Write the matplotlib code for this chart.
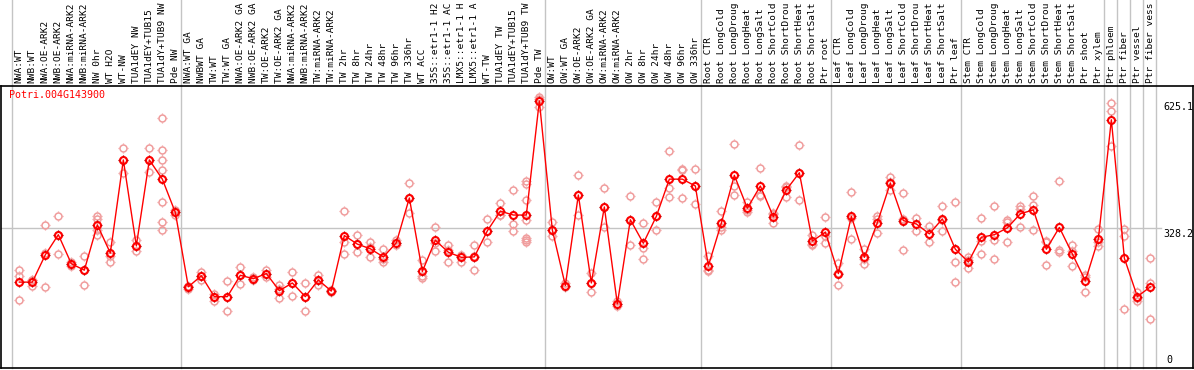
import numpy as np
import matplotlib.pyplot as plt
from matplotlib.path import Path
import matplotlib.transforms as mtransforms

gene = 'Potri.004G143900'

labels = ['NWA:WT', 'NWB:WT', 'NWA:OE-ARK2', 'NWB:OE-ARK2', 'NWA:miRNA-ARK2', 'NWB:miRNA-ARK2',
          'NW 0hr', 'WT H2O', 'WT-NW', 'TUA1dEY NW', 'TUA1dEY+TUB15 NW', 'TUA1dY+TUB9 NW', 'Pde NW',
          'NWA:WT GA', 'NWBWT GA', 'TW:WT', 'TW:WT GA', 'NWA:OE-ARK2 GA', 'NWB:OE-ARK2 GA',
          'TW:OE-ARK2', 'TW:OE-ARK2 GA', 'NWA:miRNA-ARK2', 'NWB:miRNA-ARK2', 'TW:miRNA-ARK2',
          'TW:miRNA-ARK2', 'TW 2hr', 'TW 8hr', 'TW 24hr', 'TW 48hr', 'TW 96hr', 'TW 336hr', 'WT ACC',
          '35S::etr1-1 H2O', '35S::etr1-1 ACC', 'LMX5::etr1-1 H2O', 'LMX5::etr1-1 ACC', 'WT-TW',
          'TUA1dEY TW', 'TUA1dEY+TUB15 TW', 'TUA1dY+TUB9 TW', 'Pde TW',
          'OW:WT', 'OW:WT GA', 'OW:OE-ARK2', 'OW:OE-ARK2 GA', 'OW:miRNA-ARK2', 'OW:miRNA-ARK2',
          'OW 2hr', 'OW 8hr', 'OW 24hr', 'OW 48hr', 'OW 96hr', 'OW 336hr',
          'Root CTR', 'Root LongCold', 'Root LongDrought', 'Root LongHeat', 'Root LongSalt',
          'Root ShortCold', 'Root ShortDrought', 'Root ShortHeat', 'Root ShortSalt', 'Ptr root',
          'Leaf CTR', 'Leaf LongCold', 'Leaf LongDrought', 'Leaf LongHeat', 'Leaf LongSalt',
          'Leaf ShortCold', 'Leaf ShortDrought', 'Leaf ShortHeat', 'Leaf ShortSalt', 'Ptr leaf',
          'Stem CTR', 'Stem LongCold', 'Stem LongDrought', 'Stem LongHeat', 'Stem LongSalt',
          'Stem ShortCold', 'Stem ShortDrought', 'Stem ShortHeat', 'Stem ShortSalt', 'Ptr shoot',
          'Ptr xylem', 'Ptr phloem', 'Ptr fiber', 'Ptr vessel', 'Ptr fiber vessel']

# index of first sample in each block (separator lines)
groups = [0, 13, 41, 53, 63, 73, 84, 85, 86, 87, 88]

means = [201, 201, 265, 312, 244, 229, 335, 269, 487, 286, 487, 442, 364,
         190, 216, 167, 167, 217, 209, 221, 181, 199, 167, 206, 180, 310, 290, 279, 260,
         293, 398, 226, 299, 271, 259, 260, 321, 367, 358, 358, 625.1,
         323, 193, 405, 199, 377, 150, 347, 292, 355, 442, 442, 426,
         239, 339, 451, 374, 426, 354, 417, 457, 297, 318,
         221, 355, 259, 340, 433, 345, 337, 314, 349, 278,
         248, 306, 312, 328, 361, 370, 278, 329, 267, 204, 302,
         581, 257, 167, 190]

reps = [[230, 216, 160], [205, 206, 193], [335, 269, 190], [356, 312, 267], [247, 244, 239],
        [263, 229, 195], [356, 348, 324, 312], [296, 261, 248], [514, 487, 456], [299, 286, 274],
        [514, 487, 458], [585, 510, 487, 464, 388, 341, 322], [369, 364, 359],
        [191, 189, 186], [224, 216, 205], [174, 167, 156], [204, 167, 133], [236, 217, 197],
        [214, 209, 207], [230, 221, 213], [195, 184, 164], [225, 199, 168], [199, 167, 134],
        [218, 206, 195], [183, 180, 177], [368, 294, 266], [312, 290, 271], [295, 283, 260],
        [278, 255, 248], [299, 293, 288], [433, 397, 363], [253, 215, 211], [330, 293, 273],
        [289, 277, 248], [264, 263, 248], [288, 262, 229], [348, 321, 295], [386, 358, 358],
        [417, 337, 320], [437, 430, 394, 347, 304, 300, 294], [634, 629, 612],
        [341, 323, 308], [199, 193, 189], [451, 404, 358], [222, 198, 178], [422, 377, 331],
        [156, 150, 144], [402, 347, 288], [339, 280, 255], [389, 355, 323], [508, 421, 400],
        [466, 464, 398], [466, 425, 384],
        [261, 229, 226], [368, 330, 324], [524, 425, 404], [388, 370, 364], [468, 405, 403],
        [362, 360, 339], [427, 423, 401], [522, 456, 394], [312, 291, 289], [353, 309, 292],
        [245, 223, 194], [412, 352, 302], [278, 255, 243], [356, 349, 316], [446, 435, 417],
        [409, 348, 277], [351, 338, 321], [333, 314, 296], [380, 347, 321], [388, 278, 248, 201],
        [259, 252, 233], [352, 298, 267], [380, 300, 255], [347, 341, 294], [380, 372, 330],
        [403, 382, 324], [298, 295, 242], [438, 277, 271], [289, 274, 239], [218, 214, 179],
        [325, 296, 285],
        [620, 601, 520], [325, 309, 139], [179, 164, 157], [257, 199, 115]]

yticks = [625.1, 328.2, 0]

W, H = 1194, 370
fig = plt.figure(1, [W/100, H/100], dpi=100)
ax = fig.add_axes([1/W, (H-368)/H, (1193-1)/W, (368-86)/H])
plt.rcParams['font.family'] = 'DejaVu Sans Mono'

x = np.arange(len(means))
ax.set_xlim(-1.41, 90.28)
ax.set_ylim(0, 660)
ax.set_xticks([])
ax.set_yticks([])
for s in ax.spines.values():
    s.set_color('black')
    s.set_linewidth(1.2)

# separators go all the way up through the label area
for g in groups:
    ax.axvline(g - 0.59, ymin=0, ymax=1.31, color='#c4c4c4', lw=1, clip_on=False, zorder=0)
ax.axhline(yticks[1], xmin=0, xmax=0.973, color='#c4c4c4', lw=1, zorder=0)

ticks = Path([(0, 0.72), (0, 1), (0, -0.72), (0, -1), (0.72, 0), (1, 0), (-0.72, 0), (-1, 0)],
             [Path.MOVETO, Path.LINETO] * 4)

rx = []
ry = []
for i, r in enumerate(reps):
    for v in r:
        rx.append(i)
        ry.append(v)
pink = '#f09c9c'
ax.plot(rx, ry, ls='none', marker='o', ms=5.0, mfc='none', mec=pink, mew=1.1, zorder=2)
ax.plot(rx, ry, ls='none', marker=ticks, ms=7.4, mec=pink, mew=0.9, zorder=2)

ax.plot(x, means, '-', color='red', lw=1.0, zorder=3)
ax.plot(x, means, ls='none', marker='o', ms=5.0, mfc='none', mec='red', mew=1.5, zorder=4)
ax.plot(x, means, ls='none', marker=ticks, ms=7.6, mec='#b00000', mew=0.9, zorder=4)

# sample names above the plot, only as many characters as fit in the header
trans = mtransforms.blended_transform_factory(ax.transData, ax.transAxes)
for i, lab in enumerate(labels):
    ax.text(i, 1.0105, lab[:14].rstrip(), rotation=90, ha='center', va='bottom', fontsize=6.8,
            family='DejaVu Sans Mono', transform=trans, clip_on=False)

ax.text(0.0065, 0.985, gene, color='red', fontsize=7.2, family='DejaVu Sans Mono',
        ha='left', va='top', transform=ax.transAxes)

ytrans = mtransforms.blended_transform_factory(ax.transAxes, ax.transData)
ax.text(0.975, yticks[0] - 3, '%.1f' % yticks[0], fontsize=7.2, ha='left', va='top', transform=ytrans)
ax.text(0.975, yticks[1] - 2, '%.1f' % yticks[1], fontsize=7.2, ha='left', va='top', transform=ytrans)
ax.text(0.978, yticks[2] + 6, '0', fontsize=7.2, ha='left', va='bottom', transform=ytrans)

plt.savefig('out.png', dpi=100)
